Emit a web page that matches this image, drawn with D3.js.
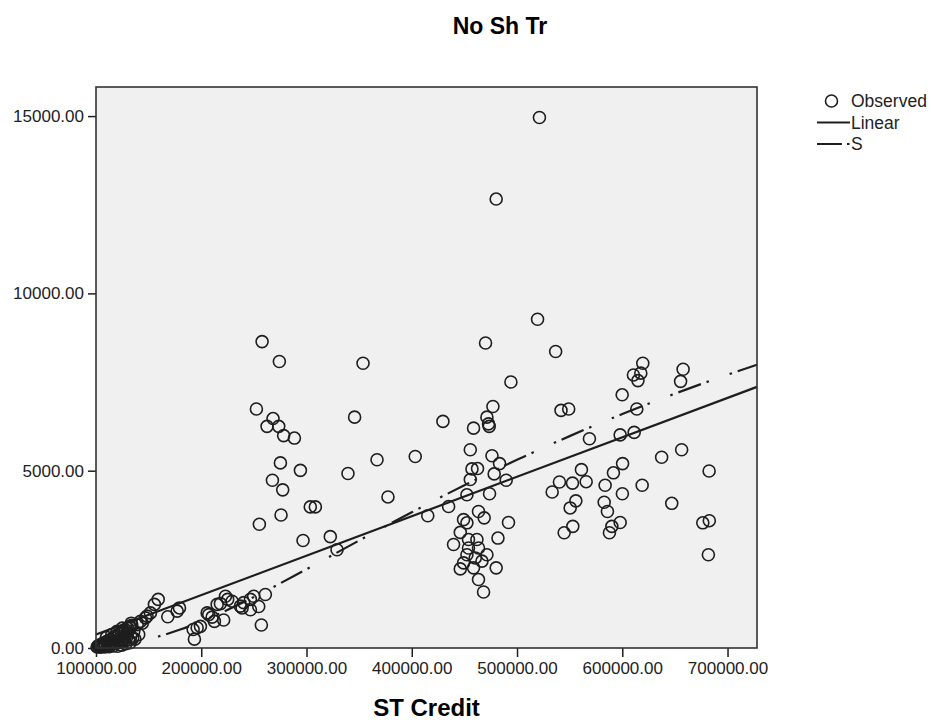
<!DOCTYPE html>
<html>
<head>
<meta charset="utf-8">
<script src="https://cdn.jsdelivr.net/npm/d3@7"></script>
<style>
  body { margin: 0; background: #fff; }
  svg { display: block; font-family: "Liberation Sans", Arial, sans-serif; }
</style>
</head>
<body>
<div id="chart"></div>
<script>
// ST Credit (x) vs No Sh Tr (y)
const stCredit = [
  521300, 480200, 519500, 257800, 470100, 536700, 274200, 353700, 619500, 610600,
  617600, 614900, 657800, 655400, 494200, 599900, 477100, 252400, 541800, 549100,
  613800, 471400, 345700, 268200, 429600, 472900, 473600, 262500, 273600, 458700,
  278300, 288500, 568800, 598000, 611300, 656400, 455600, 476200, 403300, 637400,
  367000, 275200, 600300, 483400, 457200, 462500, 561200, 682500, 294200, 591600,
  339400, 478300, 455600, 489700, 267600, 540300, 552700, 565700, 583700, 618900,
  277400, 533400, 600100, 452400, 473900, 377400, 555900, 582800, 647000, 435000,
  303600, 308400, 550500, 585900, 463400, 275800, 415200, 468800, 449200, 452400,
  491900, 598000, 676500, 682700, 255200, 553000, 590100, 446100, 544800, 587800,
  322600, 481900, 296700, 453900, 461900, 439700, 453900, 463400, 329000, 471400,
  452400, 460300, 681800, 449200, 466700, 446100, 458700, 480200, 463400, 468200,
  260900, 249800, 246700, 240300, 237200, 238800, 254600, 246700, 257100, 223000,
  225100, 218200, 229300, 215100, 207100, 205600, 210300, 221300, 212500, 196100,
  192300, 199200, 193500, 159100, 155500, 179300, 177100, 168200, 151700, 147000,
  142200, 139100, 132800, 140600, 135900, 148500, 144000,
  101000, 102000, 103000, 104000, 105000, 106000, 107000, 108000, 109000, 110000,
  111000, 112000, 113000, 114000, 115000, 116000, 117000, 118000, 119000, 120000,
  121000, 122000, 123000, 124000, 125000, 126000, 127000, 128000, 129000, 130000,
  131000, 132000, 133000, 134000, 135000, 104500, 108500, 112500, 116500, 120500,
  124500, 128500, 132500, 110000, 115000, 120000, 125000, 130000, 137000, 133500
];
const noShTr = [
  14960, 12660, 9270, 8640, 8600, 8360, 8080, 8030, 8030, 7700,
  7750, 7540, 7860, 7520, 7500, 7140, 6810, 6740, 6700, 6740,
  6740, 6510, 6510, 6470, 6390, 6320, 6250, 6250, 6250, 6200,
  5990, 5920, 5900, 6010, 6080, 5590, 5590, 5420, 5400, 5380,
  5310, 5220, 5200, 5200, 5050, 5060, 5030, 4990, 5010, 4940,
  4920, 4910, 4750, 4730, 4730, 4680, 4650, 4690, 4590, 4590,
  4460, 4400, 4350, 4320, 4350, 4260, 4150, 4110, 4080, 3990,
  3980, 3980, 3950, 3850, 3850, 3750, 3730, 3670, 3620, 3530,
  3540, 3540, 3530, 3590, 3490, 3430, 3430, 3260, 3250, 3250,
  3140, 3100, 3030, 3060, 3060, 2920, 2820, 2820, 2770, 2630,
  2630, 2540, 2630, 2400, 2450, 2230, 2260, 2260, 1930, 1580,
  1510, 1460, 1370, 1280, 1180, 1130, 1170, 1080, 650, 1460,
  1370, 1250, 1320, 1230, 940, 990, 870, 790, 750, 570,
  520, 610, 250, 1370, 1230, 1130, 1040, 880, 990, 850,
  750, 660, 570, 380, 470, 900, 700,
  30, 60, 40, 90, 70, 120, 50, 150, 100, 180,
  80, 210, 140, 240, 110, 280, 170, 320, 130, 350,
  200, 390, 160, 430, 250, 470, 190, 510, 300, 560,
  230, 600, 330, 640, 280, 20, 30, 40, 60, 50,
  80, 120, 150, 300, 380, 470, 560, 420, 250, 700
];

// fitted curves
const linearX = [100000, 728000];
const linearY = [380, 7363];
const sCurveX = [100000, 120000, 140000, 160000, 180000, 200000, 250000, 300000, 350000,
  400000, 450000, 500000, 550000, 600000, 650000, 700000, 728000];
const sCurveY = [30, 85, 185, 331, 521, 749, 1438, 2222, 3031,
  3827, 4590, 5306, 5975, 6597, 7172, 7706, 7986];

const xTicks = [100000, 200000, 300000, 400000, 500000, 600000, 700000];
const yTicks = [0, 5000, 10000, 15000];
const legendItems = ["Observed", "Linear", "S"];

const width = 931;
const height = 720;
const plot = {left: 96, top: 87, right: 757, bottom: 648};
const ink = "#1e1e1e";

const svg = d3.select("#chart")
  .append("svg")
  .attr("width", width)
  .attr("height", height);

const x = d3.scaleLinear()
  .domain([100000, 728000])
  .range([plot.left, plot.right]);

const y = d3.scaleLinear()
  .domain([0, 15820])
  .range([plot.bottom, plot.top]);

svg.append("rect")
  .attr("x", plot.left)
  .attr("y", plot.top)
  .attr("width", plot.right - plot.left)
  .attr("height", plot.bottom - plot.top)
  .attr("fill", "#f0f0f0");

const fmt = d3.format(".2f");

const xAxis = svg.append("g")
  .attr("transform", `translate(0, ${plot.bottom})`)
  .call(d3.axisBottom(x).tickValues(xTicks).tickFormat(fmt).tickSize(9).tickSizeOuter(0));

const yAxis = svg.append("g")
  .attr("transform", `translate(${plot.left}, 0)`)
  .call(d3.axisLeft(y).tickValues(yTicks).tickFormat(fmt).tickSize(8).tickSizeOuter(0));

[xAxis, yAxis].forEach(axis => {
  axis.select(".domain").remove();
  axis.selectAll("line").attr("stroke", ink).attr("stroke-width", 1.5);
  axis.selectAll("text")
    .attr("fill", "#222")
    .style("font-size", "17px")
    .style("font-family", "'Liberation Sans', Arial, sans-serif");
});
xAxis.selectAll("text").attr("dy", "0.85em");
yAxis.selectAll("text").attr("dx", "-1px");

// observed points
const points = stCredit.map((v, i) => ({x: v, y: noShTr[i]}));

svg.append("g")
  .selectAll("circle")
  .data(points)
  .enter()
  .append("circle")
  .attr("cx", d => x(d.x))
  .attr("cy", d => y(d.y))
  .attr("r", 6)
  .attr("fill", "none")
  .attr("stroke", ink)
  .attr("stroke-width", 1.6);

const line = d3.line()
  .x(d => x(d[0]))
  .y(d => y(d[1]))
  .curve(d3.curveMonotoneX);

svg.append("path")
  .datum(linearX.map((v, i) => [v, linearY[i]]))
  .attr("d", line)
  .attr("fill", "none")
  .attr("stroke", ink)
  .attr("stroke-width", 2.2);

svg.append("path")
  .datum(sCurveX.map((v, i) => [v, sCurveY[i]]))
  .attr("d", line)
  .attr("fill", "none")
  .attr("stroke", ink)
  .attr("stroke-width", 2.2)
  .attr("stroke-dasharray", "2.5,6,24,6,2.5,22");

// frame on top
svg.append("rect")
  .attr("x", plot.left)
  .attr("y", plot.top)
  .attr("width", plot.right - plot.left)
  .attr("height", plot.bottom - plot.top)
  .attr("fill", "none")
  .attr("stroke", "#333")
  .attr("stroke-width", 1.6);

// legend
const legend = svg.append("g").attr("transform", "translate(817, 101)");
const legendRows = legend.selectAll("g")
  .data(legendItems)
  .enter()
  .append("g")
  .attr("transform", (d, i) => `translate(0, ${i * 21.5})`);

legendRows.filter(d => d === "Observed")
  .append("circle")
  .attr("cx", 14.5)
  .attr("r", 6)
  .attr("fill", "none")
  .attr("stroke", ink)
  .attr("stroke-width", 1.6);

legendRows.filter(d => d !== "Observed")
  .append("line")
  .attr("x1", 0)
  .attr("x2", 33)
  .attr("stroke", ink)
  .attr("stroke-width", 2)
  .attr("stroke-dasharray", d => d === "S" ? "25,5,2.5,10" : null);

legendRows.append("text")
  .attr("x", 34)
  .attr("dy", "0.35em")
  .attr("fill", "#222")
  .style("font-size", "17.5px")
  .text(d => d);

svg.append("text")
  .attr("x", 500)
  .attr("y", 34)
  .attr("text-anchor", "middle")
  .attr("fill", "#000")
  .style("font-size", "23px")
  .style("font-weight", "bold")
  .text("No Sh Tr");

svg.append("text")
  .attr("x", (plot.left + plot.right) / 2)
  .attr("y", 716)
  .attr("text-anchor", "middle")
  .attr("fill", "#000")
  .style("font-size", "24px")
  .style("font-weight", "bold")
  .text("ST Credit");
</script>
</body>
</html>
